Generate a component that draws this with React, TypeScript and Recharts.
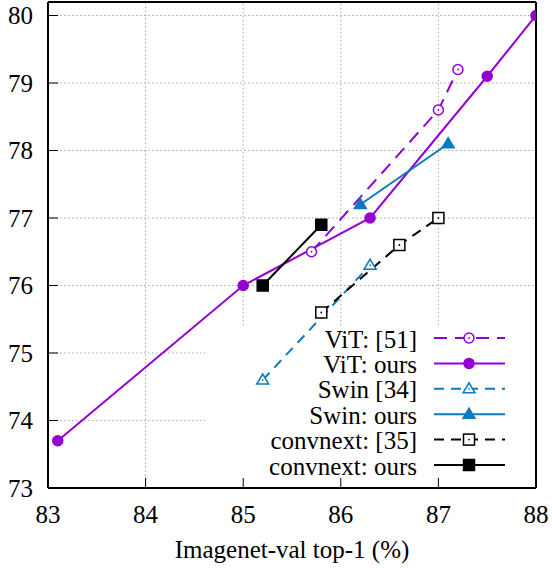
import React from 'react'
import { LineChart, Line, XAxis, YAxis, ReferenceLine, Legend } from 'recharts'

// data
const vitPaper = [
  { x: 85.7, y: 76.5 },
  { x: 87.0, y: 78.6 },
  { x: 87.2, y: 79.2 },
]
const vitOurs = [
  { x: 83.1, y: 73.7 },
  { x: 85.0, y: 76.0 },
  { x: 86.3, y: 77.0 },
  { x: 87.5, y: 79.1 },
  { x: 88.0, y: 80.0 },
]
const swinPaper = [
  { x: 85.2, y: 74.6 },
  { x: 86.3, y: 76.3 },
]
const swinOurs = [
  { x: 86.2, y: 77.2 },
  { x: 87.1, y: 78.1 },
]
const convnextPaper = [
  { x: 85.8, y: 75.6 },
  { x: 86.6, y: 76.6 },
  { x: 87.0, y: 77.0 },
]
const convnextOurs = [
  { x: 85.2, y: 76.0 },
  { x: 85.8, y: 76.9 },
]

const xTicks = [83, 84, 85, 86, 87, 88]
const yTicks = [73, 74, 75, 76, 77, 78, 79, 80]
const xDomain: [number, number] = [83, 88]
const yDomain: [number, number] = [73, 80.2]

// gnuplot-ish key box hides the grid in the lower right corner
const KEY_LEFT = 84.61
const KEY_TOP = 75.41

const PURPLE = '#9400d3'
const BLUE = '#0b7bbf'
const BLACK = '#000000'
const GRID = '#a8a8a8'
const FONT = '"Liberation Serif", "DejaVu Serif", serif'

type Shape = 'circle' | 'triangle' | 'square'

interface SeriesDef {
  name: string
  data: { x: number; y: number }[]
  color: string
  dash?: string
  shape: Shape
  filled: boolean
}

const SERIES: SeriesDef[] = [
  { name: 'ViT: [51]', data: vitPaper, color: PURPLE, dash: '13 8', shape: 'circle', filled: false },
  { name: 'ViT: ours', data: vitOurs, color: PURPLE, shape: 'circle', filled: true },
  { name: 'Swin [34]', data: swinPaper, color: BLUE, dash: '10 7', shape: 'triangle', filled: false },
  { name: 'Swin: ours', data: swinOurs, color: BLUE, shape: 'triangle', filled: true },
  { name: 'convnext: [35]', data: convnextPaper, color: BLACK, dash: '10 7', shape: 'square', filled: false },
  { name: 'convnext: ours', data: convnextOurs, color: BLACK, shape: 'square', filled: true },
]

function Marker({ shape, filled, color, cx, cy }: {
  shape: Shape; filled: boolean; color: string; cx: number; cy: number
}) {
  const fill = filled ? color : '#fff'
  const common = { fill, stroke: color, strokeWidth: 1.5 }
  let body: React.ReactNode
  if (shape === 'circle') body = <circle cx={cx} cy={cy} r={5} {...common} />
  else if (shape === 'triangle') {
    body = <polygon points={`${cx},${cy - 6} ${cx - 6},${cy + 4} ${cx + 6},${cy + 4}`} {...common} />
  } else body = <rect x={cx - 5.5} y={cy - 5.5} width={11} height={11} {...common} />
  return (
    <g>
      {body}
      {!filled && <circle cx={cx} cy={cy} r={0.9} fill={color} />}
    </g>
  )
}

const KeyBox = () => (
  <svg width={331} height={166} style={{ display: 'block', overflow: 'visible' }}>
    {SERIES.map((s, i) => {
      const y = 16 + i * 25.4
      return (
        <g key={s.name}>
          <text x={212} y={y + 9.5} textAnchor="end" fontSize={25} fontFamily={FONT} fill="#000">
            {s.name}
          </text>
          <line x1={229} x2={300} y1={y} y2={y} stroke={s.color} strokeWidth={2} strokeDasharray={s.dash} />
          <Marker shape={s.shape} filled={s.filled} color={s.color} cx={264} cy={y} />
        </g>
      )
    })}
  </svg>
)

export default function App() {
  const hGrid = yTicks.filter(v => v > yDomain[0])
  const vGrid = xTicks.filter(v => v > xDomain[0] && v < xDomain[1])

  return (
    <div style={{ position: 'absolute', left: 0, top: 0 }}>
      <LineChart
        width={552}
        height={568}
        margin={{ top: 1, right: 15, bottom: 0, left: 0 }}
        style={{ fontFamily: FONT }}
      >
        <XAxis
          xAxisId="b"
          type="number"
          dataKey="x"
          domain={xDomain}
          ticks={xTicks}
          allowDataOverflow
          height={80}
          tickSize={-10}
          tickMargin={27}
          tick={{ fontSize: 25, fill: '#000' }}
          tickLine={{ stroke: '#000', strokeWidth: 1 }}
          axisLine={{ stroke: '#000', strokeWidth: 2 }}
          label={{ value: 'Imagenet-val top-1 (%)', position: 'insideBottom', offset: 10, fontSize: 25, fill: '#000' }}
        />
        <XAxis
          xAxisId="t"
          orientation="top"
          type="number"
          dataKey="x"
          domain={xDomain}
          ticks={xTicks}
          allowDataOverflow
          height={1}
          tickSize={-10}
          tick={false}
          tickLine={{ stroke: '#000', strokeWidth: 1 }}
          axisLine={{ stroke: '#000', strokeWidth: 2 }}
        />
        <YAxis
          yAxisId="l"
          type="number"
          domain={yDomain}
          ticks={yTicks}
          allowDataOverflow
          width={48}
          tickSize={-10}
          tickMargin={25}
          tick={{ fontSize: 25, fill: '#000' }}
          tickLine={{ stroke: '#000', strokeWidth: 1 }}
          axisLine={{ stroke: '#000', strokeWidth: 2 }}
        />
        <YAxis
          yAxisId="r"
          orientation="right"
          type="number"
          domain={yDomain}
          ticks={yTicks}
          allowDataOverflow
          width={1}
          tickSize={-10}
          tick={false}
          tickLine={{ stroke: '#000', strokeWidth: 1 }}
          axisLine={{ stroke: '#000', strokeWidth: 2 }}
        />

        {/* dotted grid, cut away where the key sits */}
        {hGrid.map(v => (
          <ReferenceLine
            key={`h${v}`}
            xAxisId="b"
            yAxisId="l"
            segment={[{ x: xDomain[0], y: v }, { x: v < KEY_TOP ? KEY_LEFT : xDomain[1], y: v }]}
            stroke={GRID}
            strokeWidth={1}
            strokeDasharray="1.5 2.5"
            ifOverflow="visible"
          />
        ))}
        {vGrid.map(v => (
          <ReferenceLine
            key={`v${v}`}
            xAxisId="b"
            yAxisId="l"
            segment={[{ x: v, y: v < KEY_LEFT ? yDomain[0] : KEY_TOP }, { x: v, y: yDomain[1] }]}
            stroke={GRID}
            strokeWidth={1}
            strokeDasharray="1.5 2.5"
            ifOverflow="visible"
          />
        ))}

        {SERIES.map(s => (
          <Line
            key={s.name}
            xAxisId="b"
            yAxisId="l"
            data={s.data}
            dataKey="y"
            name={s.name}
            type="linear"
            stroke={s.color}
            strokeWidth={2}
            strokeDasharray={s.dash}
            isAnimationActive={false}
            activeDot={false}
            dot={(p: any) => (
              <Marker key={`${s.name}-${p.index}`} shape={s.shape} filled={s.filled} color={s.color} cx={p.cx} cy={p.cy} />
            )}
          />
        ))}

        <Legend
          layout="vertical"
          align="center"
          verticalAlign="middle"
          wrapperStyle={{ left: 205, top: 322, width: 331, height: 166 }}
          content={() => <KeyBox />}
        />
      </LineChart>
    </div>
  )
}
